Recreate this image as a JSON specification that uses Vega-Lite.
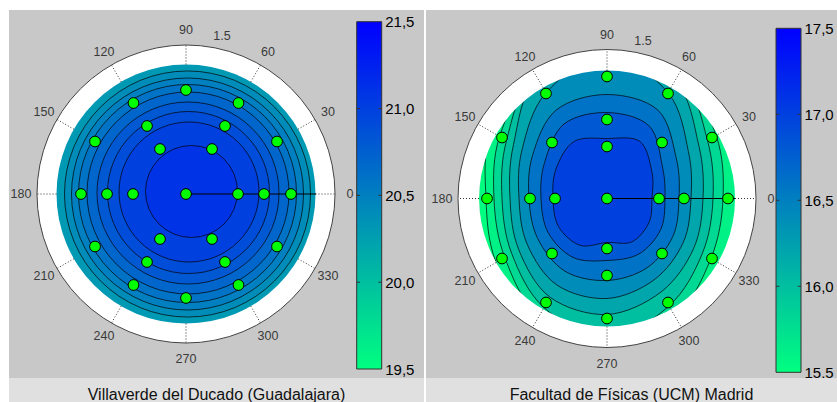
{
  "$schema": "https://vega.github.io/schema/vega-lite/v6.json",
  "padding": {"left": 9, "top": 10, "right": 0, "bottom": 0},
  "background": "#ffffff",
  "config": {"view": {"stroke": null}, "font": "Liberation Sans"},
  "datasets": {
    "center": [{"x": 0, "y": 0}],
    "labels": [
      {"t": "0", "x": 164, "y": 0}, {"t": "30", "x": 142, "y": 82}, {"t": "60", "x": 82, "y": 142},
      {"t": "90", "x": 0, "y": 164}, {"t": "120", "x": -82, "y": 142}, {"t": "150", "x": -142, "y": 82},
      {"t": "180", "x": -165, "y": 0}, {"t": "210", "x": -142, "y": -82}, {"t": "240", "x": -82, "y": -142},
      {"t": "270", "x": 0, "y": -165}, {"t": "300", "x": 82, "y": -142}, {"t": "330", "x": 142, "y": -82},
      {"t": "1.5", "x": 36, "y": 158}
    ],
    "spokesL": [
      {"x": 129.5, "y": 0, "x2": 149, "y2": 0}, {"x": 112.1, "y": 64.8, "x2": 129, "y2": 74.5},
      {"x": 64.8, "y": 112.1, "x2": 74.5, "y2": 129}, {"x": 0, "y": 129.5, "x2": 0, "y2": 149},
      {"x": -64.8, "y": 112.1, "x2": -74.5, "y2": 129}, {"x": -112.1, "y": 64.8, "x2": -129, "y2": 74.5},
      {"x": -129.5, "y": 0, "x2": -149, "y2": 0}, {"x": -112.1, "y": -64.8, "x2": -129, "y2": -74.5},
      {"x": -64.8, "y": -112.1, "x2": -74.5, "y2": -129}, {"x": 0, "y": -129.5, "x2": 0, "y2": -149},
      {"x": 64.8, "y": -112.1, "x2": 74.5, "y2": -129}, {"x": 112.1, "y": -64.8, "x2": 129, "y2": -74.5}
    ],
    "spokesR": [
      {"x": 128, "y": 0, "x2": 149, "y2": 0}, {"x": 110.9, "y": 64, "x2": 129, "y2": 74.5},
      {"x": 64, "y": 110.9, "x2": 74.5, "y2": 129}, {"x": 0, "y": 128, "x2": 0, "y2": 149},
      {"x": -64, "y": 110.9, "x2": -74.5, "y2": 129}, {"x": -110.9, "y": 64, "x2": -129, "y2": 74.5},
      {"x": -128, "y": 0, "x2": -149, "y2": 0}, {"x": -110.9, "y": -64, "x2": -129, "y2": -74.5},
      {"x": -64, "y": -110.9, "x2": -74.5, "y2": -129}, {"x": 0, "y": -128, "x2": 0, "y2": -149},
      {"x": 64, "y": -110.9, "x2": 74.5, "y2": -129}, {"x": 110.9, "y": -64, "x2": 129, "y2": -74.5}
    ],
    "contoursL": [
      {"level": 20.4, "x": 1.5, "y": 0, "r": 123},
      {"level": 20.5, "x": 1.5, "y": 0, "r": 116},
      {"level": 20.6, "x": 1.5, "y": 0.5, "r": 109},
      {"level": 20.7, "x": 2, "y": 1, "r": 101},
      {"level": 20.8, "x": 2, "y": 1, "r": 91},
      {"level": 20.9, "x": 2.5, "y": 1.5, "r": 81},
      {"level": 21.0, "x": 3, "y": 2, "r": 70},
      {"level": 21.1, "x": 5.5, "y": 2.5, "r": 46}
    ],
    "pointsL": [
      {"x": 0, "y": 0},
      {"x": 52, "y": 0}, {"x": 26, "y": 45}, {"x": -26, "y": 45}, {"x": -53, "y": 0}, {"x": -26, "y": -45}, {"x": 26, "y": -45},
      {"x": 78, "y": 0}, {"x": 39, "y": 68}, {"x": -39, "y": 68}, {"x": -79, "y": 0}, {"x": -39, "y": -68}, {"x": 39, "y": -68},
      {"x": 105, "y": 0}, {"x": 91, "y": 52.5}, {"x": 52.5, "y": 91}, {"x": 0, "y": 104}, {"x": -52.5, "y": 91}, {"x": -91, "y": 52.5},
      {"x": -105, "y": 0}, {"x": -91, "y": -52.5}, {"x": -52.5, "y": -91}, {"x": 0, "y": -104}, {"x": 52.5, "y": -91}, {"x": 91, "y": -52.5}
    ],
    "pointsR": [
      {"x": 0, "y": 0},
      {"x": 52, "y": 0}, {"x": 0, "y": 52}, {"x": -52, "y": 0}, {"x": 0, "y": -50},
      {"x": 77, "y": 0}, {"x": 55, "y": 56}, {"x": 0, "y": 79}, {"x": -55, "y": 56}, {"x": -77, "y": 0}, {"x": -55, "y": -55}, {"x": 0, "y": -77}, {"x": 55, "y": -55},
      {"x": 121, "y": 0}, {"x": 105, "y": 61}, {"x": 61, "y": 105}, {"x": 0, "y": 122}, {"x": -61, "y": 105}, {"x": -105, "y": 61},
      {"x": -120, "y": 0}, {"x": -105, "y": -60}, {"x": -61, "y": -104}, {"x": 0, "y": -120}, {"x": 61, "y": -104}, {"x": 105, "y": -60}
    ],
    "contoursR": [
      {"level": 15.6, "i": 0, "x": 140, "y": 0}, {"level": 15.6, "i": 1, "x": 124.7, "y": 72}, {"level": 15.6, "i": 2, "x": 72, "y": 124.7}, {"level": 15.6, "i": 3, "x": 0, "y": 144}, {"level": 15.6, "i": 4, "x": -72, "y": 124.7}, {"level": 15.6, "i": 5, "x": -116, "y": 67}, {"level": 15.6, "i": 6, "x": -121, "y": 0}, {"level": 15.6, "i": 7, "x": -110.9, "y": -64}, {"level": 15.6, "i": 8, "x": -72, "y": -124.7}, {"level": 15.6, "i": 9, "x": 0, "y": -144}, {"level": 15.6, "i": 10, "x": 72, "y": -124.7}, {"level": 15.6, "i": 11, "x": 121.2, "y": -70},
      {"level": 15.8, "i": 0, "x": 116, "y": 0}, {"level": 15.8, "i": 1, "x": 109.1, "y": 63}, {"level": 15.8, "i": 2, "x": 72, "y": 124.7}, {"level": 15.8, "i": 3, "x": 0, "y": 144}, {"level": 15.8, "i": 4, "x": -72, "y": 124.7}, {"level": 15.8, "i": 5, "x": -107.4, "y": 62}, {"level": 15.8, "i": 6, "x": -113, "y": 0}, {"level": 15.8, "i": 7, "x": -102.2, "y": -59}, {"level": 15.8, "i": 8, "x": -68, "y": -117.8}, {"level": 15.8, "i": 9, "x": 0, "y": -144}, {"level": 15.8, "i": 10, "x": 68, "y": -117.8}, {"level": 15.8, "i": 11, "x": 103.9, "y": -60},
      {"level": 16.0, "i": 0, "x": 106, "y": 0}, {"level": 16.0, "i": 1, "x": 100.5, "y": 58}, {"level": 16.0, "i": 2, "x": 72, "y": 124.7}, {"level": 16.0, "i": 3, "x": 0, "y": 144}, {"level": 16.0, "i": 4, "x": -72, "y": 124.7}, {"level": 16.0, "i": 5, "x": -100.5, "y": 58}, {"level": 16.0, "i": 6, "x": -105, "y": 0}, {"level": 16.0, "i": 7, "x": -95.3, "y": -55}, {"level": 16.0, "i": 8, "x": -63, "y": -109.1}, {"level": 16.0, "i": 9, "x": 0, "y": -140}, {"level": 16.0, "i": 10, "x": 62, "y": -107.4}, {"level": 16.0, "i": 11, "x": 95.3, "y": -55},
      {"level": 16.2, "i": 0, "x": 96, "y": 0}, {"level": 16.2, "i": 1, "x": 91.8, "y": 53}, {"level": 16.2, "i": 2, "x": 68, "y": 117.8}, {"level": 16.2, "i": 3, "x": 0, "y": 144}, {"level": 16.2, "i": 4, "x": -70, "y": 121.2}, {"level": 16.2, "i": 5, "x": -93.5, "y": 54}, {"level": 16.2, "i": 6, "x": -97, "y": 0}, {"level": 16.2, "i": 7, "x": -88.3, "y": -51}, {"level": 16.2, "i": 8, "x": -57, "y": -98.7}, {"level": 16.2, "i": 9, "x": 0, "y": -116}, {"level": 16.2, "i": 10, "x": 54, "y": -93.5}, {"level": 16.2, "i": 11, "x": 86.6, "y": -50},
      {"level": 16.4, "i": 0, "x": 84, "y": 0}, {"level": 16.4, "i": 1, "x": 81.4, "y": 47}, {"level": 16.4, "i": 2, "x": 61, "y": 105.7}, {"level": 16.4, "i": 3, "x": 0, "y": 144}, {"level": 16.4, "i": 4, "x": -61, "y": 105.7}, {"level": 16.4, "i": 5, "x": -84.9, "y": 49}, {"level": 16.4, "i": 6, "x": -88, "y": 0}, {"level": 16.4, "i": 7, "x": -79.7, "y": -46}, {"level": 16.4, "i": 8, "x": -50, "y": -86.6}, {"level": 16.4, "i": 9, "x": 0, "y": -100}, {"level": 16.4, "i": 10, "x": 47, "y": -81.4}, {"level": 16.4, "i": 11, "x": 76.2, "y": -44},
      {"level": 16.6, "i": 0, "x": 72, "y": 0}, {"level": 16.6, "i": 1, "x": 69.3, "y": 40}, {"level": 16.6, "i": 2, "x": 51, "y": 88.3}, {"level": 16.6, "i": 3, "x": 0, "y": 104}, {"level": 16.6, "i": 4, "x": -51, "y": 88.3}, {"level": 16.6, "i": 5, "x": -74.5, "y": 43}, {"level": 16.6, "i": 6, "x": -78, "y": 0}, {"level": 16.6, "i": 7, "x": -69.3, "y": -40}, {"level": 16.6, "i": 8, "x": -42, "y": -72.7}, {"level": 16.6, "i": 9, "x": 0, "y": -82}, {"level": 16.6, "i": 10, "x": 40, "y": -69.3}, {"level": 16.6, "i": 11, "x": 65.8, "y": -38},
      {"level": 16.8, "i": 0, "x": 58, "y": 0}, {"level": 16.8, "i": 1, "x": 55.4, "y": 32}, {"level": 16.8, "i": 2, "x": 42, "y": 72.7}, {"level": 16.8, "i": 3, "x": 0, "y": 86}, {"level": 16.8, "i": 4, "x": -43, "y": 74.5}, {"level": 16.8, "i": 5, "x": -62.4, "y": 36}, {"level": 16.8, "i": 6, "x": -66, "y": 0}, {"level": 16.8, "i": 7, "x": -58.9, "y": -34}, {"level": 16.8, "i": 8, "x": -34, "y": -58.9}, {"level": 16.8, "i": 9, "x": 0, "y": -62}, {"level": 16.8, "i": 10, "x": 32, "y": -55.4}, {"level": 16.8, "i": 11, "x": 53.7, "y": -31},
      {"level": 17.0, "i": 0, "x": 45, "y": 0}, {"level": 17.0, "i": 1, "x": 45, "y": 26}, {"level": 17.0, "i": 2, "x": 33, "y": 57}, {"level": 17.0, "i": 3, "x": 0, "y": 60}, {"level": 17.0, "i": 4, "x": -33, "y": 57}, {"level": 17.0, "i": 5, "x": -51, "y": 29.5}, {"level": 17.0, "i": 6, "x": -54, "y": 0}, {"level": 17.0, "i": 7, "x": -48.5, "y": -28}, {"level": 17.0, "i": 8, "x": -27, "y": -46.8}, {"level": 17.0, "i": 9, "x": 0, "y": -44}, {"level": 17.0, "i": 10, "x": 25, "y": -43.3}, {"level": 17.0, "i": 11, "x": 42, "y": -24}
    ],
    "barL": [{"lo": 19.5, "hi": 21.5}],
    "ticksL": [{"v": 20}, {"v": 20.5}, {"v": 21}],
    "barR": [{"lo": 15.5, "hi": 17.5}],
    "ticksR": [{"v": 16}, {"v": 16.5}, {"v": 17}],
    "titleL": [{"t": "Villaverde del Ducado (Guadalajara)"}],
    "titleR": [{"t": "Facultad de Físicas (UCM) Madrid"}]
  },
  "spacing": 2,
  "resolve": {"scale": {"color": "independent", "size": "independent"}},
  "hconcat": [
    {
      "spacing": 0,
      "bounds": "flush",
      "vconcat": [
        {
          "width": 415,
          "height": 368,
          "view": {"fill": "#c8c8c8", "stroke": null},
          "resolve": {"scale": {"y": "independent"}},
          "layer": [
            {
              "data": {"name": "center"},
              "mark": {"type": "point", "shape": "circle", "filled": true, "fill": "#ffffff", "stroke": "#444444", "strokeWidth": 1, "opacity": 1},
              "encoding": {
                "x": {"field": "x", "type": "quantitative", "scale": {"domain": [-177, 238], "nice": false, "zero": false}, "axis": null},
                "y": {"field": "y", "type": "quantitative", "scale": {"domain": [-184, 184], "nice": false, "zero": false}, "axis": null},
                "size": {"datum": 149, "type": "quantitative", "scale": {"type": "pow", "exponent": 2, "domain": [0, 149], "range": [0, 88804], "zero": true}, "legend": null}
              }
            },
            {
              "data": {"name": "center"},
              "mark": {"type": "point", "shape": "circle", "filled": true, "strokeWidth": 0, "opacity": 1},
              "encoding": {
                "x": {"field": "x", "type": "quantitative", "scale": {"domain": [-177, 238], "nice": false, "zero": false}, "axis": null},
                "y": {"field": "y", "type": "quantitative", "scale": {"domain": [-184, 184], "nice": false, "zero": false}, "axis": null},
                "size": {"datum": 129.5, "type": "quantitative", "scale": {"type": "pow", "exponent": 2, "domain": [0, 149], "range": [0, 88804], "zero": true}, "legend": null},
                "color": {"datum": 20.3, "type": "quantitative", "scale": {"domain": [19.5, 21.5], "range": ["#00ff80", "#0000ff"], "interpolate": "rgb"}, "legend": null}
              }
            },
            {
              "data": {"name": "contoursL"},
              "mark": {"type": "point", "shape": "circle", "filled": true, "stroke": "#000000", "strokeWidth": 0.7, "opacity": 1},
              "encoding": {
                "x": {"field": "x", "type": "quantitative", "scale": {"domain": [-177, 238], "nice": false, "zero": false}, "axis": null},
                "y": {"field": "y", "type": "quantitative", "scale": {"domain": [-184, 184], "nice": false, "zero": false}, "axis": null},
                "size": {"field": "r", "type": "quantitative", "scale": {"type": "pow", "exponent": 2, "domain": [0, 149], "range": [0, 88804], "zero": true}, "legend": null},
                "color": {"field": "level", "type": "quantitative", "scale": {"domain": [19.5, 21.5], "range": ["#00ff80", "#0000ff"], "interpolate": "rgb"}, "legend": null}
              }
            },
            {
              "data": {"name": "spokesL"},
              "mark": {"type": "rule", "color": "#333333", "strokeWidth": 1, "strokeDash": [1, 2]},
              "encoding": {
                "x": {"field": "x", "type": "quantitative", "scale": {"domain": [-177, 238], "nice": false, "zero": false}, "axis": null},
                "y": {"field": "y", "type": "quantitative", "scale": {"domain": [-184, 184], "nice": false, "zero": false}, "axis": null},
                "x2": {"field": "x2"}, "y2": {"field": "y2"}
              }
            },
            {
              "data": {"name": "center"},
              "mark": {"type": "rule", "color": "#000000", "strokeWidth": 1},
              "encoding": {
                "x": {"field": "x", "type": "quantitative", "scale": {"domain": [-177, 238], "nice": false, "zero": false}, "axis": null},
                "y": {"field": "y", "type": "quantitative", "scale": {"domain": [-184, 184], "nice": false, "zero": false}, "axis": null},
                "x2": {"datum": 130}
              }
            },
            {
              "data": {"name": "pointsL"},
              "mark": {"type": "point", "shape": "circle", "filled": true, "fill": "#00ff00", "stroke": "#000000", "strokeWidth": 1, "size": 115, "opacity": 1},
              "encoding": {
                "x": {"field": "x", "type": "quantitative", "scale": {"domain": [-177, 238], "nice": false, "zero": false}, "axis": null},
                "y": {"field": "y", "type": "quantitative", "scale": {"domain": [-184, 184], "nice": false, "zero": false}, "axis": null}
              }
            },
            {
              "data": {"name": "labels"},
              "mark": {"type": "text", "fontSize": 12.5, "font": "Liberation Sans", "color": "#3a3a3a", "align": "center", "baseline": "middle"},
              "encoding": {
                "x": {"field": "x", "type": "quantitative", "scale": {"domain": [-177, 238], "nice": false, "zero": false}, "axis": null},
                "y": {"field": "y", "type": "quantitative", "scale": {"domain": [-184, 184], "nice": false, "zero": false}, "axis": null},
                "text": {"field": "t"}
              }
            },
            {
              "data": {"name": "barL"},
              "mark": {"type": "rect", "stroke": "#333333", "strokeWidth": 1, "fill": {"gradient": "linear", "x1": 0, "y1": 1, "x2": 0, "y2": 0, "stops": [{"offset": 0, "color": "#00ff80"}, {"offset": 1, "color": "#0000ff"}]}},
              "encoding": {
                "x": {"datum": 170.7, "type": "quantitative", "scale": {"domain": [-177, 238], "nice": false, "zero": false}, "axis": null},
                "x2": {"datum": 195.7},
                "y": {"field": "lo", "type": "quantitative", "scale": {"domain": [19.5, 21.5], "range": [359, 11.7], "nice": false, "zero": false},
                  "axis": {"orient": "right", "offset": -42.3, "values": [19.5, 20, 20.5, 21, 21.5], "domain": false, "ticks": false, "grid": false, "title": null, "labelPadding": 3, "labelFontSize": 15, "labelFont": "Liberation Sans", "labelColor": "#000000", "labelFlush": false, "labelOverlap": false, "labelExpr": "replace(format(datum.value, '.1f'), '.', ',')"}},
                "y2": {"field": "hi"}
              }
            },
            {
              "data": {"name": "ticksL"},
              "mark": {"type": "rule", "color": "#333333", "strokeWidth": 1},
              "encoding": {
                "x": {"datum": 170.7, "type": "quantitative", "scale": {"domain": [-177, 238], "nice": false, "zero": false}, "axis": null},
                "x2": {"datum": 174},
                "y": {"field": "v", "type": "quantitative", "scale": {"domain": [19.5, 21.5], "range": [359, 11.7], "nice": false, "zero": false}, "axis": null}
              }
            },
            {
              "data": {"name": "ticksL"},
              "mark": {"type": "rule", "color": "#333333", "strokeWidth": 1},
              "encoding": {
                "x": {"datum": 192.4, "type": "quantitative", "scale": {"domain": [-177, 238], "nice": false, "zero": false}, "axis": null},
                "x2": {"datum": 195.7},
                "y": {"field": "v", "type": "quantitative", "scale": {"domain": [19.5, 21.5], "range": [359, 11.7], "nice": false, "zero": false}, "axis": null}
              }
            }
          ]
        },
        {
          "width": 415,
          "height": 24,
          "view": {"fill": "#e0e0e0", "stroke": null},
          "data": {"name": "titleL"},
          "mark": {"type": "text", "fontSize": 16, "font": "Liberation Sans", "color": "#111111", "align": "center", "baseline": "alphabetic", "dy": 9.5},
          "encoding": {"text": {"field": "t"}}
        }
      ]
    },
    {
      "spacing": 0,
      "bounds": "flush",
      "vconcat": [
        {
          "width": 411,
          "height": 368,
          "view": {"fill": "#c8c8c8", "stroke": null},
          "resolve": {"scale": {"y": "independent"}},
          "layer": [
            {
              "data": {"name": "center"},
              "mark": {"type": "point", "shape": "circle", "filled": true, "strokeWidth": 0, "opacity": 1},
              "encoding": {
                "x": {"field": "x", "type": "quantitative", "scale": {"domain": [-181, 230], "nice": false, "zero": false}, "axis": null},
                "y": {"field": "y", "type": "quantitative", "scale": {"domain": [-179.5, 188.5], "nice": false, "zero": false}, "axis": null},
                "size": {"datum": 128, "type": "quantitative", "scale": {"type": "pow", "exponent": 2, "domain": [0, 149], "range": [0, 88804], "zero": true}, "legend": null},
                "color": {"datum": 15.5, "type": "quantitative", "scale": {"domain": [15.5, 17.5], "range": ["#00ff80", "#0000ff"], "interpolate": "rgb"}, "legend": null}
              }
            },
            {
              "data": {"name": "contoursR"},
              "mark": {"type": "line", "filled": true, "interpolate": "cardinal-closed", "stroke": "#000000", "strokeWidth": 0.7},
              "encoding": {
                "x": {"field": "x", "type": "quantitative", "scale": {"domain": [-181, 230], "nice": false, "zero": false}, "axis": null},
                "y": {"field": "y", "type": "quantitative", "scale": {"domain": [-179.5, 188.5], "nice": false, "zero": false}, "axis": null},
                "order": {"field": "i", "type": "quantitative"},
                "detail": {"field": "level", "type": "nominal"},
                "color": {"field": "level", "type": "quantitative", "scale": {"domain": [15.5, 17.5], "range": ["#00ff80", "#0000ff"], "interpolate": "rgb"}, "legend": null}
              }
            },
            {
              "data": {"name": "center"},
              "mark": {"type": "point", "shape": "circle", "filled": false, "stroke": "#ffffff", "strokeWidth": 21, "opacity": 1},
              "encoding": {
                "x": {"field": "x", "type": "quantitative", "scale": {"domain": [-181, 230], "nice": false, "zero": false}, "axis": null},
                "y": {"field": "y", "type": "quantitative", "scale": {"domain": [-179.5, 188.5], "nice": false, "zero": false}, "axis": null},
                "size": {"datum": 138.5, "type": "quantitative", "scale": {"type": "pow", "exponent": 2, "domain": [0, 149], "range": [0, 88804], "zero": true}, "legend": null}
              }
            },
            {
              "data": {"name": "center"},
              "mark": {"type": "point", "shape": "circle", "filled": false, "stroke": "#444444", "strokeWidth": 1, "opacity": 1},
              "encoding": {
                "x": {"field": "x", "type": "quantitative", "scale": {"domain": [-181, 230], "nice": false, "zero": false}, "axis": null},
                "y": {"field": "y", "type": "quantitative", "scale": {"domain": [-179.5, 188.5], "nice": false, "zero": false}, "axis": null},
                "size": {"datum": 149, "type": "quantitative", "scale": {"type": "pow", "exponent": 2, "domain": [0, 149], "range": [0, 88804], "zero": true}, "legend": null}
              }
            },
            {
              "data": {"name": "spokesR"},
              "mark": {"type": "rule", "color": "#333333", "strokeWidth": 1, "strokeDash": [1, 2]},
              "encoding": {
                "x": {"field": "x", "type": "quantitative", "scale": {"domain": [-181, 230], "nice": false, "zero": false}, "axis": null},
                "y": {"field": "y", "type": "quantitative", "scale": {"domain": [-179.5, 188.5], "nice": false, "zero": false}, "axis": null},
                "x2": {"field": "x2"}, "y2": {"field": "y2"}
              }
            },
            {
              "data": {"name": "center"},
              "mark": {"type": "rule", "color": "#000000", "strokeWidth": 1},
              "encoding": {
                "x": {"field": "x", "type": "quantitative", "scale": {"domain": [-181, 230], "nice": false, "zero": false}, "axis": null},
                "y": {"field": "y", "type": "quantitative", "scale": {"domain": [-179.5, 188.5], "nice": false, "zero": false}, "axis": null},
                "x2": {"datum": 128}
              }
            },
            {
              "data": {"name": "pointsR"},
              "mark": {"type": "point", "shape": "circle", "filled": true, "fill": "#00ff00", "stroke": "#000000", "strokeWidth": 1, "size": 115, "opacity": 1},
              "encoding": {
                "x": {"field": "x", "type": "quantitative", "scale": {"domain": [-181, 230], "nice": false, "zero": false}, "axis": null},
                "y": {"field": "y", "type": "quantitative", "scale": {"domain": [-179.5, 188.5], "nice": false, "zero": false}, "axis": null}
              }
            },
            {
              "data": {"name": "labels"},
              "mark": {"type": "text", "fontSize": 12.5, "font": "Liberation Sans", "color": "#3a3a3a", "align": "center", "baseline": "middle"},
              "encoding": {
                "x": {"field": "x", "type": "quantitative", "scale": {"domain": [-181, 230], "nice": false, "zero": false}, "axis": null},
                "y": {"field": "y", "type": "quantitative", "scale": {"domain": [-179.5, 188.5], "nice": false, "zero": false}, "axis": null},
                "text": {"field": "t"}
              }
            },
            {
              "data": {"name": "barR"},
              "mark": {"type": "rect", "stroke": "#333333", "strokeWidth": 1, "fill": {"gradient": "linear", "x1": 0, "y1": 1, "x2": 0, "y2": 0, "stops": [{"offset": 0, "color": "#00ff80"}, {"offset": 1, "color": "#0000ff"}]}},
              "encoding": {
                "x": {"datum": 169, "type": "quantitative", "scale": {"domain": [-181, 230], "nice": false, "zero": false}, "axis": null},
                "x2": {"datum": 194},
                "y": {"field": "lo", "type": "quantitative", "scale": {"domain": [15.5, 17.5], "range": [362.3, 18.3], "nice": false, "zero": false},
                  "axis": {"orient": "right", "offset": -36, "values": [15.5, 16, 16.5, 17, 17.5], "domain": false, "ticks": false, "grid": false, "title": null, "labelPadding": 3, "labelFontSize": 15, "labelFont": "Liberation Sans", "labelColor": "#000000", "labelFlush": false, "labelOverlap": false, "labelExpr": "replace(format(datum.value, '.1f'), '.', ',')"}},
                "y2": {"field": "hi"}
              }
            },
            {
              "data": {"name": "ticksR"},
              "mark": {"type": "rule", "color": "#333333", "strokeWidth": 1},
              "encoding": {
                "x": {"datum": 169, "type": "quantitative", "scale": {"domain": [-181, 230], "nice": false, "zero": false}, "axis": null},
                "x2": {"datum": 172.3},
                "y": {"field": "v", "type": "quantitative", "scale": {"domain": [15.5, 17.5], "range": [362.3, 18.3], "nice": false, "zero": false}, "axis": null}
              }
            },
            {
              "data": {"name": "ticksR"},
              "mark": {"type": "rule", "color": "#333333", "strokeWidth": 1},
              "encoding": {
                "x": {"datum": 190.7, "type": "quantitative", "scale": {"domain": [-181, 230], "nice": false, "zero": false}, "axis": null},
                "x2": {"datum": 194},
                "y": {"field": "v", "type": "quantitative", "scale": {"domain": [15.5, 17.5], "range": [362.3, 18.3], "nice": false, "zero": false}, "axis": null}
              }
            }
          ]
        },
        {
          "width": 411,
          "height": 24,
          "view": {"fill": "#e0e0e0", "stroke": null},
          "data": {"name": "titleR"},
          "mark": {"type": "text", "fontSize": 16, "font": "Liberation Sans", "color": "#111111", "align": "center", "baseline": "alphabetic", "dy": 9.5},
          "encoding": {"text": {"field": "t"}}
        }
      ]
    }
  ]
}
